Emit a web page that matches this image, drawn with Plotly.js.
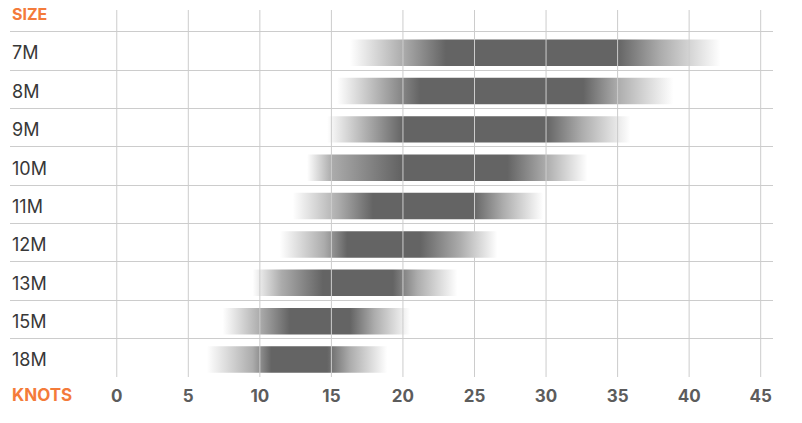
<!DOCTYPE html>
<html>
<head>
<meta charset="utf-8">
<script src="https://cdn.plot.ly/plotly-3.0.1.min.js"></script>
<style>html,body{margin:0;padding:0;background:#fff;}#chart{width:802px;height:423px;}</style>
</head>
<body>
<div id="chart"></div>
<script>
// Kite sizes and wind ranges (knots)
const sizes     = ['7M', '8M', '9M', '10M', '11M', '12M', '13M', '15M', '18M'];
const fadeStart = [16.3, 15.4, 14.7, 13.3, 12.3, 11.4,  9.5,  7.4,  6.3];
const rampLow   = [20.0, 18.5, 17.5, 15.0, 15.5, 14.5, 11.5, 10.0,  9.5];
const fullStart = [23.0, 21.2, 20.0, 19.8, 17.9, 16.1, 14.4, 12.1, 10.8];
const fullEnd   = [35.0, 32.6, 30.0, 27.3, 24.9, 21.2, 19.3, 16.3, 14.7];
const rampHigh  = [38.0, 35.0, 32.5, 30.0, 27.0, 24.0, 21.0, 18.0, 16.3];
const fadeEnd   = [42.2, 38.9, 35.9, 32.9, 29.8, 26.6, 23.8, 20.5, 18.9];
const knotTicks = [0, 5, 10, 15, 20, 25, 30, 35, 40, 45];

const ORANGE = '#f47b3a';
const DARK = 'rgb(100,100,100)';
const MID = 'rgb(172,172,172)';
const EDGE = 'rgb(255,255,255)';
const FONT = 'Inter, "Open Sans", sans-serif';

const traces = sizes.map((s, i) => {
  const a = fadeStart[i], b = fadeEnd[i], w = b - a;
  const n = v => (v - a) / w;
  return {
    type: 'scatter', mode: 'lines', fill: 'toself',
    x: [a, b, b, a, a],
    y: [i - 0.30, i - 0.30, i + 0.39, i + 0.39, i - 0.30],
    line: {width: 0, color: 'rgba(0,0,0,0)'},
    fillgradient: {
      type: 'horizontal', start: a, stop: b,
      colorscale: [[0, EDGE], [n(rampLow[i]), MID], [n(fullStart[i]), DARK],
                   [n(fullEnd[i]), DARK], [n(rampHigh[i]), MID], [1, EDGE]]
    },
    hoverinfo: 'skip', showlegend: false
  };
});

const boundaries = [];
for (let k = 0; k <= sizes.length; k++) boundaries.push(k - 0.5);

const shapes = knotTicks.map(t => ({
  type: 'line', xref: 'x', yref: 'paper', x0: t, x1: t, y0: 0, y1: 1,
  line: {color: '#cccccc', width: 1}, layer: 'above'
}));

const annotations = sizes.map((s, i) => ({
  text: s, xref: 'paper', x: 0, xanchor: 'left', yref: 'y', y: i, yanchor: 'middle',
  yshift: -2, showarrow: false, font: {family: FONT, size: 18, color: '#383838', weight: 400}
}));
annotations.push({text: 'SIZE', xref: 'paper', x: 0, xanchor: 'left', yref: 'y', y: -0.96,
  yanchor: 'middle', showarrow: false, font: {family: FONT, size: 16, color: ORANGE, weight: 700}});
annotations.push({text: 'KNOTS', xref: 'paper', x: 0, xanchor: 'left', yref: 'paper', y: -0.05,
  yanchor: 'middle', showarrow: false, font: {family: FONT, size: 17, color: ORANGE, weight: 700}});

const layout = {
  width: 802, height: 423,
  margin: {l: 10, r: 29, t: 10, b: 46},
  paper_bgcolor: '#fff', plot_bgcolor: '#fff',
  showlegend: false,
  xaxis: {
    range: [-7.46, 45.86], tickvals: knotTicks, ticktext: knotTicks.map(String),
    showgrid: false, zeroline: false, showline: false, ticks: '',
    ticklabelstandoff: 7,
    tickfont: {family: FONT, size: 17, color: '#5c5c5c', weight: 700},
    fixedrange: true
  },
  yaxis: {
    range: [8.5, -1.067], tickvals: boundaries, showticklabels: false,
    showgrid: true, gridcolor: '#cccccc', gridwidth: 1, zeroline: false, showline: false, ticks: '',
    fixedrange: true
  },
  shapes: shapes,
  annotations: annotations
};

Plotly.newPlot('chart', traces, layout, {displayModeBar: false, staticPlot: true});
</script>
</body>
</html>
